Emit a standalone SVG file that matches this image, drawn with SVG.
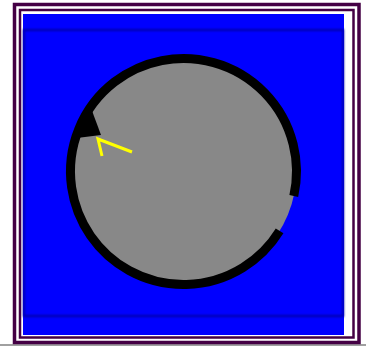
<svg xmlns="http://www.w3.org/2000/svg" width="369" height="346" viewBox="0 0 369 346">
<defs>
<style>
.frame{fill:none;stroke:#440044}
.ring{fill:none;stroke:#000000;stroke-width:9}
</style>
<filter id="soft" x="-5%" y="-5%" width="110%" height="110%"><feGaussianBlur stdDeviation="0.8"/></filter>
</defs>
<rect x="0" y="0" width="369" height="346" fill="#ffffff"/>
<rect x="0" y="344" width="366" height="2" fill="#a0a0a0"/>
<g id="frame">
<rect class="frame" x="14.5" y="4.5" width="344.5" height="338" stroke-width="3.5"/>
<rect class="frame" x="20" y="10" width="333.5" height="327.5" stroke-width="2.5"/>
<rect x="23" y="14" width="321" height="321" fill="#0000ff"/>
<rect x="24" y="30" width="319" height="286" fill="none" stroke="#0000a8" stroke-width="2" filter="url(#soft)"/>
</g>
<g id="dial">
<circle cx="183.5" cy="171.5" r="113" fill="#888888"/>
<path class="ring" d="M279.6,230.9 A113,113 0 1 1 293.8,196"/>
<polygon points="91,108 101,135 77,138" fill="#000000"/>
</g>
<g id="pointer">
<polyline points="102,156 98,139 132,152" fill="none" stroke="#ffff00" stroke-width="3" stroke-linejoin="miter"/>
</g>
</svg>
